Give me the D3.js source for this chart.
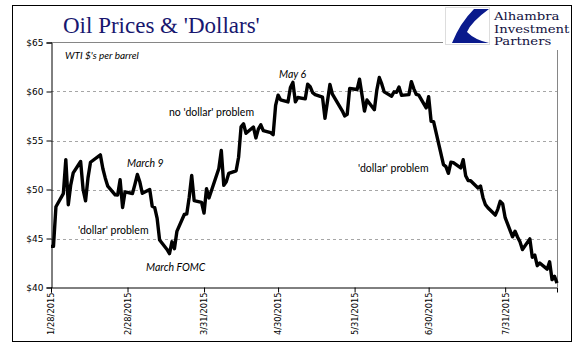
<!DOCTYPE html>
<html><head><meta charset="utf-8">
<script src="https://cdn.jsdelivr.net/npm/d3@7"></script>
<style>body{margin:0;background:#fff}svg{display:block}</style>
</head><body>
<script>
const dates = ["2015-01-28","2015-01-29","2015-01-30","2015-02-02","2015-02-03","2015-02-04","2015-02-05","2015-02-06","2015-02-09","2015-02-10","2015-02-11","2015-02-12","2015-02-13","2015-02-17","2015-02-18","2015-02-19","2015-02-20","2015-02-23","2015-02-24","2015-02-25","2015-02-26","2015-02-27","2015-03-02","2015-03-03","2015-03-04","2015-03-05","2015-03-06","2015-03-09","2015-03-10","2015-03-11","2015-03-12","2015-03-13","2015-03-16","2015-03-17","2015-03-18","2015-03-19","2015-03-20","2015-03-23","2015-03-24","2015-03-25","2015-03-26","2015-03-27","2015-03-30","2015-03-31","2015-04-01","2015-04-02","2015-04-06","2015-04-07","2015-04-08","2015-04-09","2015-04-10","2015-04-13","2015-04-14","2015-04-15","2015-04-16","2015-04-17","2015-04-20","2015-04-21","2015-04-22","2015-04-23","2015-04-24","2015-04-27","2015-04-28","2015-04-29","2015-04-30","2015-05-01","2015-05-04","2015-05-05","2015-05-06","2015-05-07","2015-05-08","2015-05-11","2015-05-12","2015-05-13","2015-05-14","2015-05-15","2015-05-18","2015-05-19","2015-05-20","2015-05-21","2015-05-22","2015-05-26","2015-05-27","2015-05-28","2015-05-29","2015-06-01","2015-06-02","2015-06-03","2015-06-04","2015-06-05","2015-06-08","2015-06-09","2015-06-10","2015-06-11","2015-06-12","2015-06-15","2015-06-16","2015-06-17","2015-06-18","2015-06-19","2015-06-22","2015-06-23","2015-06-24","2015-06-25","2015-06-26","2015-06-29","2015-06-30","2015-07-01","2015-07-02","2015-07-06","2015-07-07","2015-07-08","2015-07-09","2015-07-10","2015-07-13","2015-07-14","2015-07-15","2015-07-16","2015-07-17","2015-07-20","2015-07-21","2015-07-22","2015-07-23","2015-07-24","2015-07-27","2015-07-28","2015-07-29","2015-07-30","2015-07-31","2015-08-03","2015-08-04","2015-08-05","2015-08-06","2015-08-07","2015-08-10","2015-08-11","2015-08-12","2015-08-13","2015-08-14","2015-08-17","2015-08-18","2015-08-19","2015-08-20","2015-08-21"];
const prices = [44.2,44.2,48.24,49.57,53.05,48.45,50.48,51.69,52.86,50.02,48.84,51.21,52.78,53.53,52.14,51.16,50.34,49.45,49.43,50.99,48.17,49.76,49.59,50.52,51.53,50.76,49.61,50.0,48.29,48.17,47.05,44.84,43.88,43.46,44.66,43.96,45.72,47.45,47.51,49.21,51.43,48.87,48.68,47.6,50.09,49.14,52.14,53.98,50.42,50.79,51.64,51.91,53.29,56.39,56.71,55.74,56.38,55.26,56.16,56.6,56.0,55.8,55.6,58.58,59.63,59.15,58.93,60.4,60.93,58.94,59.39,59.25,60.75,60.5,59.88,59.69,59.43,57.26,58.98,60.72,59.72,58.03,57.51,57.68,60.3,60.2,61.26,59.64,58.0,59.13,58.14,60.14,61.43,60.77,59.96,59.52,59.97,59.92,60.45,59.61,59.68,61.01,60.27,59.7,59.63,58.33,59.47,56.96,56.93,52.53,52.33,51.65,52.78,52.74,52.2,53.04,51.41,50.91,50.89,50.15,50.36,49.19,48.45,48.14,47.39,47.98,48.79,48.52,47.12,45.17,45.74,45.15,44.66,43.87,44.96,43.08,43.3,42.23,42.5,41.87,42.62,40.8,41.14,40.45];
const yTicks = [40,45,50,55,60,65];
const xTickLabels = ["1/28/2015","2/28/2015","3/31/2015","4/30/2015","5/31/2015","6/30/2015","7/31/2015"];
const title = "Oil Prices & 'Dollars'";
const subtitle = "WTI $'s per barrel";
const annotations = ["March 9","'dollar' problem","March FOMC","no 'dollar' problem","May 6","'dollar' problem"];
const logoLines = ["Alhambra","Investment","Partners"];

// layout
const annLayout = [
  {x:127, y:167, italic:true},
  {x:78, y:234, italic:false},
  {x:146, y:271, italic:true},
  {x:169, y:116, italic:false},
  {x:279, y:78, italic:true},
  {x:358, y:172, italic:false}
];

const W=577, H=361;
const parse = d3.timeParse("%Y-%m-%d");
const parseTick = d3.timeParse("%m/%d/%Y");
const data = dates.map((d,i)=>({date:parse(d), v:prices[i]}));

const svg = d3.select("body").append("svg").attr("width",W).attr("height",H);
svg.append("rect").attr("x",12.5).attr("y",5.5).attr("width",559).attr("height",336)
  .attr("fill","#fff").attr("stroke","#000").attr("stroke-width",1);

const x = d3.scaleTime().domain([parse("2015-01-28"), parse("2015-08-21")]).range([51, 557]);
const y = d3.scaleLinear().domain([40,65]).range([287.5, 42.5]);

// gridlines
svg.append("g").selectAll("line").data(yTicks.filter(t=>t>40 && t<65)).join("line")
  .attr("x1",51).attr("x2",557).attr("y1",d=>Math.round(y(d))+0.5).attr("y2",d=>Math.round(y(d))+0.5)
  .attr("stroke","#a6a6a6").attr("stroke-dasharray","3,3").attr("stroke-width",1);

// plot frame top/right
svg.append("line").attr("x1",51).attr("x2",557.5).attr("y1",y(65)).attr("y2",y(65)).attr("stroke","#868686");
svg.append("line").attr("x1",557.5).attr("x2",557.5).attr("y1",y(65)).attr("y2",y(40)).attr("stroke","#868686");

// y axis
const ya = svg.append("g").attr("transform","translate(51.5,0)")
  .call(d3.axisLeft(y).tickValues(yTicks).tickSize(5).tickPadding(3).tickFormat(d=>"$"+d));
ya.selectAll("text").attr("font-family","DejaVu Sans").attr("font-size",9).attr("fill","#000");
ya.selectAll("line,path").attr("stroke","#000");

// x axis
const xa = svg.append("g").attr("transform","translate(0,"+(y(40))+")")
  .call(d3.axisBottom(x).tickValues(xTickLabels.map(parseTick)).tickSize(5).tickFormat(d3.timeFormat("%-m/%-d/%Y")));
xa.select(".domain").attr("stroke","#000");
xa.selectAll("line").attr("stroke","#000");
xa.selectAll("text").attr("font-family","DejaVu Sans").attr("font-size",8.3).attr("fill","#000")
  .attr("text-anchor","end").attr("dy","0.35em").attr("transform","translate(0,5) rotate(-90)").attr("x",0).attr("y",0);

// line
svg.append("path").datum(data)
  .attr("d", d3.line().x(d=>x(d.date)).y(d=>y(d.v)))
  .attr("fill","none").attr("stroke","#000").attr("stroke-width",3.4).attr("stroke-linejoin","round");

// title
svg.append("text").attr("x",63).attr("y",33).text(title)
  .attr("font-family","Liberation Serif").attr("font-size",23).attr("fill","#17176f");

svg.append("text").attr("x",65).attr("y",58.5).text(subtitle)
  .attr("font-family","Lato").attr("font-style","italic").attr("font-size",10).attr("fill","#000");

svg.append("g").selectAll("text").data(annotations).join("text")
  .attr("x",(d,i)=>annLayout[i].x).attr("y",(d,i)=>annLayout[i].y)
  .attr("font-style",(d,i)=>annLayout[i].italic?"italic":"normal")
  .attr("font-family","Lato").attr("font-size",10.5).attr("fill","#000").text(d=>d);

// logo
const lg = svg.append("g");
lg.append("rect").attr("x",443).attr("y",7).attr("width",127).attr("height",43).attr("fill","#fff");
lg.append("rect").attr("x",445.5).attr("y",7.5).attr("width",44).attr("height",37).attr("fill","#fff").attr("stroke","#ddd");
lg.append("path").attr("d","M474,9 L489,9 Q471,22 467,32 Q475,40 489,43 L452,43 Q460,23 474,9 Z").attr("fill","#0a1a8c");
lg.append("g").selectAll("text").data(logoLines).join("text")
  .attr("transform",(d,i)=>"translate(494,"+(20+i*12.6)+") scale(1.25,1)").text(d=>d)
  .attr("font-family","DejaVu Serif").attr("font-size",10.6).attr("fill","#101040");
</script>
</body></html>
